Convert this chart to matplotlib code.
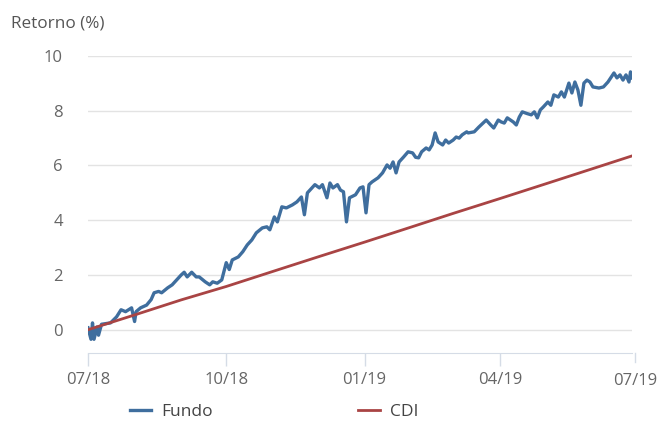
import matplotlib
matplotlib.use("Agg")
import matplotlib.pyplot as plt
import pandas as pd

start_date = "2018-07-01"

fundo_days = [0, 2, 3, 4, 6, 7, 9, 15, 19, 22, 25, 29, 31, 32, 35, 39, 42, 44, 47, 49,
              53, 56, 59, 62, 64, 66, 69, 72, 74, 78, 81, 83, 86, 89, 92, 94, 96, 100,
              103, 106, 109, 112, 116, 119, 121, 124, 126, 129, 132, 136, 139, 142, 144,
              146, 149, 151, 154, 156, 159, 161, 163, 166, 168, 170, 172, 174, 178, 181,
              183, 185, 187, 189, 193, 196, 199, 201, 203, 205, 207, 210, 213, 216, 218,
              220, 222, 225, 227, 229, 231, 233, 236, 238, 240, 243, 245, 247, 249, 252,
              253, 257, 260, 265, 268, 270, 273, 275, 277, 279, 283, 285, 287, 289, 292,
              295, 297, 299, 301, 303, 306, 308, 310, 313, 315, 317, 320, 322, 324, 326,
              328, 330, 332, 334, 336, 340, 343, 346, 350, 352, 354, 356, 358, 360, 361, 362]
fundo_vals = [0.07, -0.35, 0.25, -0.35, 0.1, -0.2, 0.2, 0.25, 0.47, 0.73, 0.66, 0.8, 0.3, 0.66,
              0.8, 0.9, 1.1, 1.35, 1.4, 1.35, 1.53, 1.64, 1.82, 2.0, 2.1, 1.93, 2.1, 1.93,
              1.93, 1.75, 1.64, 1.75, 1.7, 1.82, 2.45, 2.2, 2.55, 2.66, 2.85, 3.1, 3.28,
              3.54, 3.72, 3.76, 3.65, 4.12, 3.94, 4.49, 4.45, 4.56, 4.67, 4.85, 4.2, 5.0,
              5.18, 5.3, 5.18, 5.3, 4.82, 5.36, 5.18, 5.3, 5.1, 5.04, 3.94, 4.82, 4.93,
              5.18, 5.22, 4.27, 5.3, 5.4, 5.55, 5.73, 6.02, 5.9, 6.13, 5.73, 6.13, 6.31,
              6.5, 6.46, 6.3, 6.28, 6.5, 6.64, 6.57, 6.75, 7.19, 6.86, 6.75, 6.93, 6.82,
              6.93, 7.04, 7.0, 7.12, 7.23, 7.19, 7.23, 7.4, 7.66, 7.48, 7.37, 7.66, 7.59,
              7.55, 7.74, 7.59, 7.48, 7.77, 7.96, 7.9, 7.85, 7.96, 7.74, 8.03, 8.14, 8.32,
              8.2, 8.58, 8.5, 8.69, 8.5, 9.01, 8.65, 9.05, 8.76, 8.2, 9.01, 9.12, 9.05,
              8.87, 8.83, 8.87, 9.05, 9.38, 9.2, 9.31, 9.12, 9.31, 9.05, 9.42, 9.2]

cdi_days = [0, 31, 62, 92, 123, 153, 184, 215, 243, 274, 304, 335, 362]
cdi_vals = [0.0, 0.54, 1.09, 1.58, 2.13, 2.66, 3.2, 3.75, 4.25, 4.79, 5.32, 5.87, 6.35]

tick_dates = ["2018-07-01", "2018-10-01", "2019-01-01", "2019-04-01", "2019-07-01"]
tick_labels = ["07/18", "10/18", "01/19", "04/19", "07/19"]
y_ticks = [0, 2, 4, 6, 8, 10]

base = pd.Timestamp(start_date)
fundo_x = [base + pd.Timedelta(days=d) for d in fundo_days]
cdi_x = [base + pd.Timedelta(days=d) for d in cdi_days]

plt.rcParams['font.family'] = ['Open Sans', 'DejaVu Sans']

fig = plt.figure(figsize=(6.66, 4.21), dpi=100)
ax = fig.add_axes([88 / 666, 1 - 353 / 421, (632 - 88) / 666, (353 - 56) / 421])

ax.plot(fundo_x, fundo_vals, color="#3f6e9e", lw=2.4, label="Fundo", zorder=3)
ax.plot(cdi_x, cdi_vals, color="#a94444", lw=2.0, label="CDI", zorder=4)

ax.set_xlim(pd.Timestamp("2018-07-01"), pd.Timestamp("2019-06-28"))
ax.set_ylim(-0.85, 10.0)
ax.set_yticks(y_ticks)
ax.set_yticklabels([str(v) for v in y_ticks])
ax.set_xticks([pd.Timestamp(t) for t in tick_dates[:-1]])
ax.set_xticklabels(tick_labels[:-1])

ax.grid(axis="y", color="#e3e3e3", lw=1)
ax.set_axisbelow(True)
for s in ["top", "right", "left"]:
    ax.spines[s].set_visible(False)
ax.spines["bottom"].set_color("#d5dce6")
ax.tick_params(axis="y", length=0, pad=18, labelsize=12, labelcolor="#666666")
ax.tick_params(axis="x", length=9, width=1, color="#d5dce6", pad=5,
               labelsize=12, labelcolor="#666666")

# last tick just past the axis end, as in the reference
fig.text(635 / 666, 1 - 381 / 421, tick_labels[-1], ha="center", va="center",
         fontsize=12, color="#666666")
fig.add_artist(plt.Line2D([635 / 666, 635 / 666], [1 - 353 / 421, 1 - 362 / 421],
                          color="#d5dce6", lw=1))

fig.text(11 / 666, 1 - 24 / 421, "Retorno (%)", ha="left", va="center",
         fontsize=12.3, color="#555555")

leg = fig.legend(loc="center left", bbox_to_anchor=(121 / 666, 1 - 412 / 421), ncol=2,
                 frameon=False, fontsize=12.5, handlelength=1.25, handletextpad=0.55,
                 columnspacing=8.4, borderpad=0)
for t in leg.get_texts():
    t.set_color("#444444")

fig.savefig("out.png", dpi=100)
